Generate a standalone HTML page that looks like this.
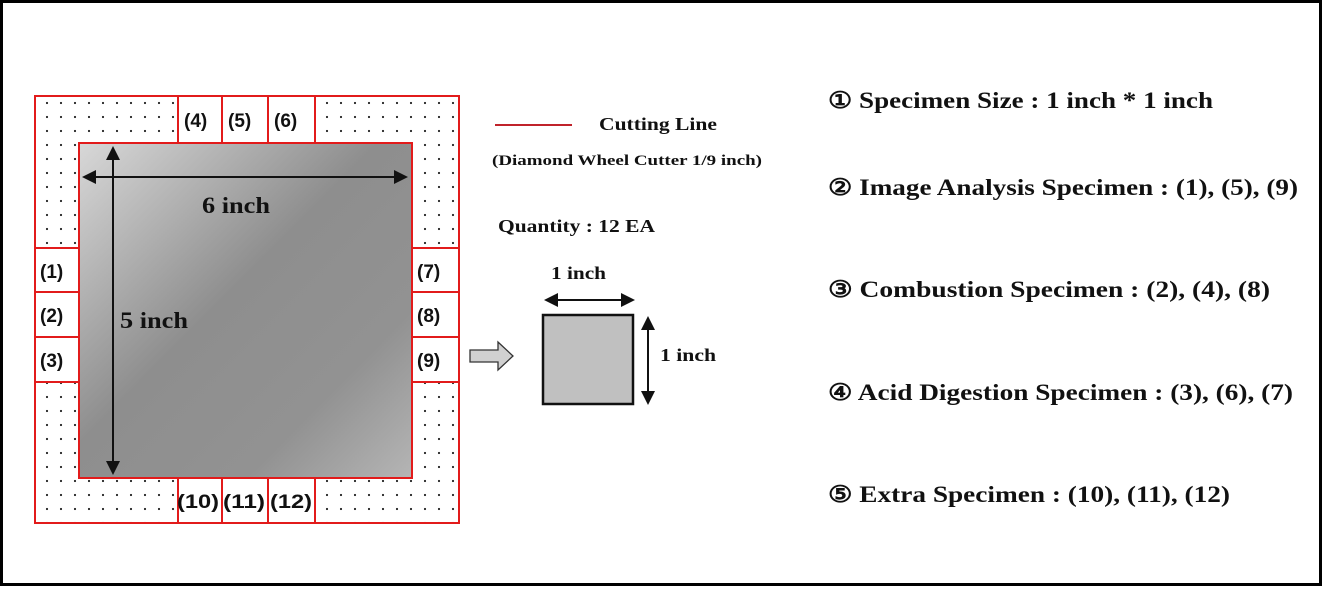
<!DOCTYPE html>
<html><head><style>
body{margin:0;width:1323px;height:587px;background:#fff;overflow:hidden;}
svg text{font-family:"Liberation Serif",serif;font-weight:bold;fill:#111;}
.n{font-family:"Liberation Sans",sans-serif;font-size:19px;}
</style></head><body>
<svg width="1323" height="587" xmlns="http://www.w3.org/2000/svg">
<defs>
<pattern id="dots" width="14" height="14" patternUnits="userSpaceOnUse"><circle cx="5" cy="5" r="1.1" fill="#222"/></pattern>
<linearGradient id="g" x1="0" y1="0" x2="1" y2="1">
<stop offset="0" stop-color="#d8d8d8"/><stop offset="0.45" stop-color="#8e8e8e"/><stop offset="0.75" stop-color="#929292"/><stop offset="1" stop-color="#b5b5b5"/></linearGradient>
<marker id="ah2" markerWidth="14" markerHeight="14" refX="12" refY="7" orient="auto-start-reverse" markerUnits="userSpaceOnUse"><path d="M0,0 L14,7 L0,14 z" fill="#111"/></marker>
</defs>
<rect x="1.5" y="1.5" width="1319" height="583" fill="none" stroke="#000" stroke-width="3"/>
<rect x="35" y="96" width="424" height="427" fill="url(#dots)" stroke="#e21b1b" stroke-width="2"/>
<g fill="#fff" stroke="#e21b1b" stroke-width="2">
<rect x="178" y="96" width="44" height="47"/><rect x="222" y="96" width="46" height="47"/><rect x="268" y="96" width="47" height="47"/>
<rect x="178" y="478" width="44" height="45"/><rect x="222" y="478" width="46" height="45"/><rect x="268" y="478" width="47" height="45"/>
<rect x="35" y="248" width="44" height="44"/><rect x="35" y="292" width="44" height="45"/><rect x="35" y="337" width="44" height="45"/>
<rect x="412" y="248" width="47" height="44"/><rect x="412" y="292" width="47" height="45"/><rect x="412" y="337" width="47" height="45"/>
</g>
<rect x="79" y="143" width="333" height="335" fill="url(#g)" stroke="#e21b1b" stroke-width="2"/>
<line x1="84" y1="177" x2="406" y2="177" stroke="#111" stroke-width="2" marker-start="url(#ah2)" marker-end="url(#ah2)"/>
<line x1="113" y1="148" x2="113" y2="473" stroke="#111" stroke-width="2" marker-start="url(#ah2)" marker-end="url(#ah2)"/>
<text x="202" y="213" font-size="23" textLength="68" lengthAdjust="spacingAndGlyphs">6 inch</text>
<text x="120" y="328" font-size="23" textLength="68" lengthAdjust="spacingAndGlyphs">5 inch</text>
<g class="n">
<text class="n" x="184" y="127">(4)</text><text class="n" x="228" y="127">(5)</text><text class="n" x="274" y="127">(6)</text>
<text class="n" x="40" y="278">(1)</text><text class="n" x="40" y="322">(2)</text><text class="n" x="40" y="367">(3)</text>
<text class="n" x="417" y="278">(7)</text><text class="n" x="417" y="322">(8)</text><text class="n" x="417" y="367">(9)</text>
<text class="n" x="177" y="508" textLength="42" lengthAdjust="spacingAndGlyphs">(10)</text><text class="n" x="223" y="508" textLength="42" lengthAdjust="spacingAndGlyphs">(11)</text><text class="n" x="270" y="508" textLength="42" lengthAdjust="spacingAndGlyphs">(12)</text>
</g>
<line x1="495" y1="125" x2="572" y2="125" stroke="#c0232b" stroke-width="2"/>
<text x="599" y="130" font-size="18" textLength="118" lengthAdjust="spacingAndGlyphs">Cutting Line</text>
<text x="492" y="165" font-size="15" textLength="270" lengthAdjust="spacingAndGlyphs">(Diamond Wheel Cutter 1/9 inch)</text>
<text x="498" y="232" font-size="18" textLength="157" lengthAdjust="spacingAndGlyphs">Quantity : 12 EA</text>
<path d="M470,350 H498 V342 L513,356 L498,370 V362 H470 z" fill="#d0d0d0" stroke="#333" stroke-width="1.3"/>
<rect x="543" y="315" width="90" height="89" fill="#c0c0c0" stroke="#111" stroke-width="2.5"/>
<line x1="546" y1="300" x2="633" y2="300" stroke="#111" stroke-width="2" marker-start="url(#ah2)" marker-end="url(#ah2)"/>
<line x1="648" y1="318" x2="648" y2="403" stroke="#111" stroke-width="2" marker-start="url(#ah2)" marker-end="url(#ah2)"/>
<text x="551" y="279" font-size="18" textLength="55" lengthAdjust="spacingAndGlyphs">1 inch</text>
<text x="660" y="361" font-size="18" textLength="56" lengthAdjust="spacingAndGlyphs">1 inch</text>
<g font-size="23">
<text x="828" y="108" textLength="385" lengthAdjust="spacingAndGlyphs">① Specimen Size : 1 inch * 1 inch</text>
<text x="828" y="195" textLength="470" lengthAdjust="spacingAndGlyphs">② Image Analysis Specimen : (1), (5), (9)</text>
<text x="828" y="297" textLength="442" lengthAdjust="spacingAndGlyphs">③ Combustion Specimen  : (2), (4), (8)</text>
<text x="828" y="400" textLength="465" lengthAdjust="spacingAndGlyphs">④ Acid Digestion Specimen : (3), (6), (7)</text>
<text x="828" y="502" textLength="402" lengthAdjust="spacingAndGlyphs">⑤ Extra Specimen : (10), (11), (12)</text>
</g>
</svg>
</body></html>
